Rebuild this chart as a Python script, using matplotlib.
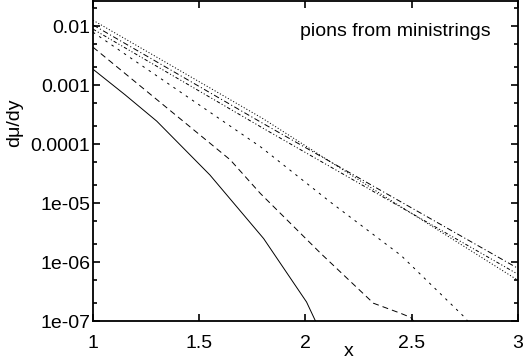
import numpy as np
import matplotlib
matplotlib.use("Agg")
import matplotlib.pyplot as plt
from matplotlib.ticker import LogLocator, FixedLocator, NullFormatter

plt.rcParams["font.family"] = ["Liberation Sans", "DejaVu Sans"]
plt.rcParams["lines.scale_dashes"] = False

# curves (x, dmu/dy)
x_dot = [1.0, 1.8, 2.4, 3.0]
y_dot = [1.26e-2, 2.7e-4, 1.12e-5, 4.9e-7]

x_dashdot = [1.0, 1.8, 3.0]
y_dashdot = [1.05e-2, 2.24e-4, 7.8e-7]

x_dashdotdot = [1.0, 1.8, 3.0]
y_dashdotdot = [8.9e-3, 1.86e-4, 6.2e-7]

x_short = [1.0, 1.79, 2.12, 2.45, 2.755, 2.77]
y_short = [7.9e-3, 8.9e-5, 1.02e-5, 1.29e-6, 1.1e-7, 9e-8]

x_long = [1.0, 1.646, 1.788, 2.071, 2.32, 2.448, 2.495, 2.52]
y_long = [4.4e-3, 5.4e-5, 1.45e-5, 1.41e-6, 2.0e-7, 1.35e-7, 1.15e-7, 8.9e-8]

x_solid = [1.0, 1.15, 1.3, 1.55, 1.803, 2.005, 2.047, 2.06]
y_solid = [1.86e-3, 6.9e-4, 2.45e-4, 3.0e-5, 2.5e-6, 2.1e-7, 1.0e-7, 9e-8]

x_ticks = [1, 1.5, 2, 2.5, 3]
x_ticklabels = ["1", "1.5", "2", "2.5", "3"]
y_ticks = [1e-7, 1e-6, 1e-5, 1e-4, 1e-3, 1e-2]
y_ticklabels = ["1e-07", "1e-06", "1e-05", "0.0001", "0.001", "0.01"]

fig = plt.figure(figsize=(5.23, 3.63), dpi=100)
ax = fig.add_axes([0.1778, 0.1157, 0.8126, 0.8813])

lw = 0.7
ax.plot(x_solid, y_solid, color="black", lw=lw)
ax.plot(x_long, y_long, color="black", lw=lw, dashes=(4.3, 2.9))
ax.plot(x_short, y_short, color="black", lw=lw, dashes=(1.8, 3.6))
ax.plot(x_dashdot, y_dashdot, color="black", lw=lw, dashes=(4.0, 1.8, 0.8, 1.8))
ax.plot(x_dashdotdot, y_dashdotdot, color="black", lw=lw, dashes=(2.5, 1.5, 0.8, 1.5, 0.8, 1.5))
ax.plot(x_dot, y_dot, color="black", lw=lw, dashes=(0.8, 1.4))

ax.set_yscale("log")
ax.set_xlim(1, 3)
ax.set_ylim(1e-7, 0.0266)

ax.xaxis.set_major_locator(FixedLocator(x_ticks))
ax.set_xticklabels(x_ticklabels)
ax.yaxis.set_major_locator(FixedLocator(y_ticks))
ax.set_yticklabels(y_ticklabels)
ax.yaxis.set_minor_locator(LogLocator(base=10, subs=(2.0, 5.0)))
ax.yaxis.set_minor_formatter(NullFormatter())

ax.tick_params(which="both", direction="in", top=True, right=True,
               labelsize=14, width=1.2, color="black")
ax.tick_params(which="major", length=5)
ax.tick_params(axis="y", which="major", pad=2)
ax.tick_params(axis="x", which="major", pad=10)
ax.tick_params(which="minor", length=3)
for s in ax.spines.values():
    s.set_linewidth(1.3)

ax.set_xlabel("x", fontsize=14)
ax.xaxis.set_label_coords(0.602, -0.07)
ax.set_ylabel("dμ/dy", fontsize=14)
ax.yaxis.set_label_coords(-0.165, 0.62)

ax.text(0.487, 0.905, "pions from ministrings", transform=ax.transAxes,
        fontsize=14, ha="left", va="center")

fig.savefig("out.png", dpi=100)
